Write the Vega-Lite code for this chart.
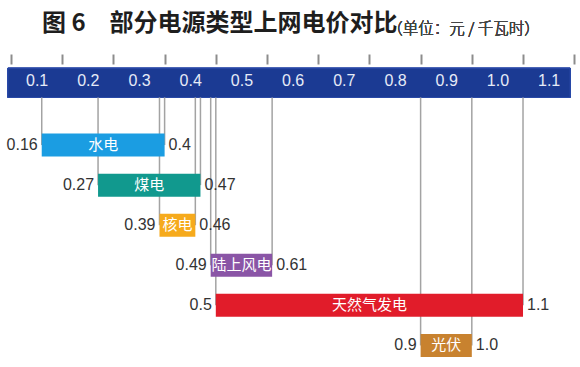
{
  "$schema": "https://vega.github.io/schema/vega-lite/v6.json",
  "width": 580,
  "height": 367,
  "autosize": "none",
  "padding": 0,
  "background": "white",
  "config": {"view": {"stroke": null}},
  "title": {
    "text": "图 6　部分电源类型上网电价对比",
    "anchor": "start",
    "frame": "group",
    "dx": 42,
    "offset": -36,
    "font": "Noto Sans CJK SC",
    "fontSize": 24,
    "fontWeight": "bold",
    "color": "#1e1e1e"
  },
  "data": {
    "values": [
      {"rank": 1, "type": "水电", "lo": 0.16, "hi": 0.4, "loText": "0.16", "hiText": "0.4"},
      {"rank": 2, "type": "煤电", "lo": 0.27, "hi": 0.47, "loText": "0.27", "hiText": "0.47"},
      {"rank": 3, "type": "核电", "lo": 0.39, "hi": 0.46, "loText": "0.39", "hiText": "0.46"},
      {"rank": 4, "type": "陆上风电", "lo": 0.49, "hi": 0.61, "loText": "0.49", "hiText": "0.61"},
      {"rank": 5, "type": "天然气发电", "lo": 0.5, "hi": 1.1, "loText": "0.5", "hiText": "1.1"},
      {"rank": 6, "type": "光伏", "lo": 0.9, "hi": 1.0, "loText": "0.9", "hiText": "1.0"}
    ]
  },
  "layer": [
    {
      "mark": {"type": "rect", "color": "#1b3a93", "stroke": "#2a4aa8", "strokeWidth": 1},
      "encoding": {
        "x": {"datum": 0.094, "type": "quantitative", "scale": {"domain": [0.0785, 1.2113], "nice": false, "zero": false},
          "axis": {
            "orient": "bottom", "offset": -313, "values": [0.1, 0.2, 0.3, 0.4, 0.5, 0.6, 0.7, 0.8, 0.9, 1.0, 1.1, 1.2],
            "labelExpr": "datum.value > 1.15 ? '' : format(datum.value, '.1f')",
            "labelOffset": 25.6, "labelFlush": false, "labelOverlap": false, "labelBound": false,
            "domain": false, "grid": false, "title": null,
            "tickColor": "#8c8c8c", "tickWidth": 2, "tickSize": 10,
            "labelColor": "#e6ebf7", "labelFont": "Liberation Sans", "labelFontSize": 16,
            "labelBaseline": "middle", "labelPadding": 16.5, "zindex": 1
          }},
        "x2": {"datum": 1.192},
        "y": {"datum": -0.917, "type": "quantitative", "scale": {"domain": [-2.495, 6.413], "reverse": true, "nice": false, "zero": false}, "axis": null},
        "y2": {"datum": -0.189}
      }
    },
    {
      "transform": [{"fold": ["lo", "hi"], "as": ["end", "value"]}],
      "mark": {"type": "rule", "color": "#a3a3a3", "strokeWidth": 1.5},
      "encoding": {
        "x": {"field": "value", "type": "quantitative"},
        "y": {"field": "rank", "type": "quantitative"},
        "y2": {"datum": -0.189}
      }
    },
    {
      "mark": {"type": "bar", "height": 23},
      "encoding": {
        "x": {"field": "lo", "type": "quantitative"},
        "x2": {"field": "hi"},
        "y": {"field": "rank", "type": "quantitative"},
        "color": {"field": "type", "type": "nominal", "legend": null,
          "scale": {"domain": ["水电", "煤电", "核电", "陆上风电", "天然气发电", "光伏"],
                    "range": ["#1b9de2", "#11998e", "#f6aa1c", "#8a55a6", "#e11c2a", "#c8822f"]}}
      }
    },
    {
      "transform": [{"fold": ["lo", "hi"], "as": ["end", "value"]}],
      "mark": {"type": "text", "color": "white", "font": "Noto Sans CJK SC", "fontSize": 15, "align": "center", "baseline": "middle"},
      "encoding": {
        "x": {"field": "value", "aggregate": "mean", "type": "quantitative"},
        "y": {"field": "rank", "type": "quantitative"},
        "text": {"field": "type", "type": "nominal"}
      }
    },
    {
      "mark": {"type": "text", "color": "#333333", "font": "Liberation Sans", "fontSize": 16, "align": "right", "baseline": "middle", "dx": -4},
      "encoding": {
        "x": {"field": "lo", "type": "quantitative"},
        "y": {"field": "rank", "type": "quantitative"},
        "text": {"field": "loText", "type": "nominal"}
      }
    },
    {
      "mark": {"type": "text", "color": "#333333", "font": "Liberation Sans", "fontSize": 16, "align": "left", "baseline": "middle", "dx": 4},
      "encoding": {
        "x": {"field": "hi", "type": "quantitative"},
        "y": {"field": "rank", "type": "quantitative"},
        "text": {"field": "hiText", "type": "nominal"}
      }
    },
    {
      "mark": {"type": "text", "color": "#444444", "font": "Noto Sans CJK SC", "fontSize": 15.5, "fontWeight": 300, "align": "left", "baseline": "middle"},
      "encoding": {
        "x": {"datum": 0.835, "type": "quantitative"},
        "y": {"datum": -1.9, "type": "quantitative"},
        "text": {"value": "（单位：元 / 千瓦时）"}
      }
    }
  ]
}
